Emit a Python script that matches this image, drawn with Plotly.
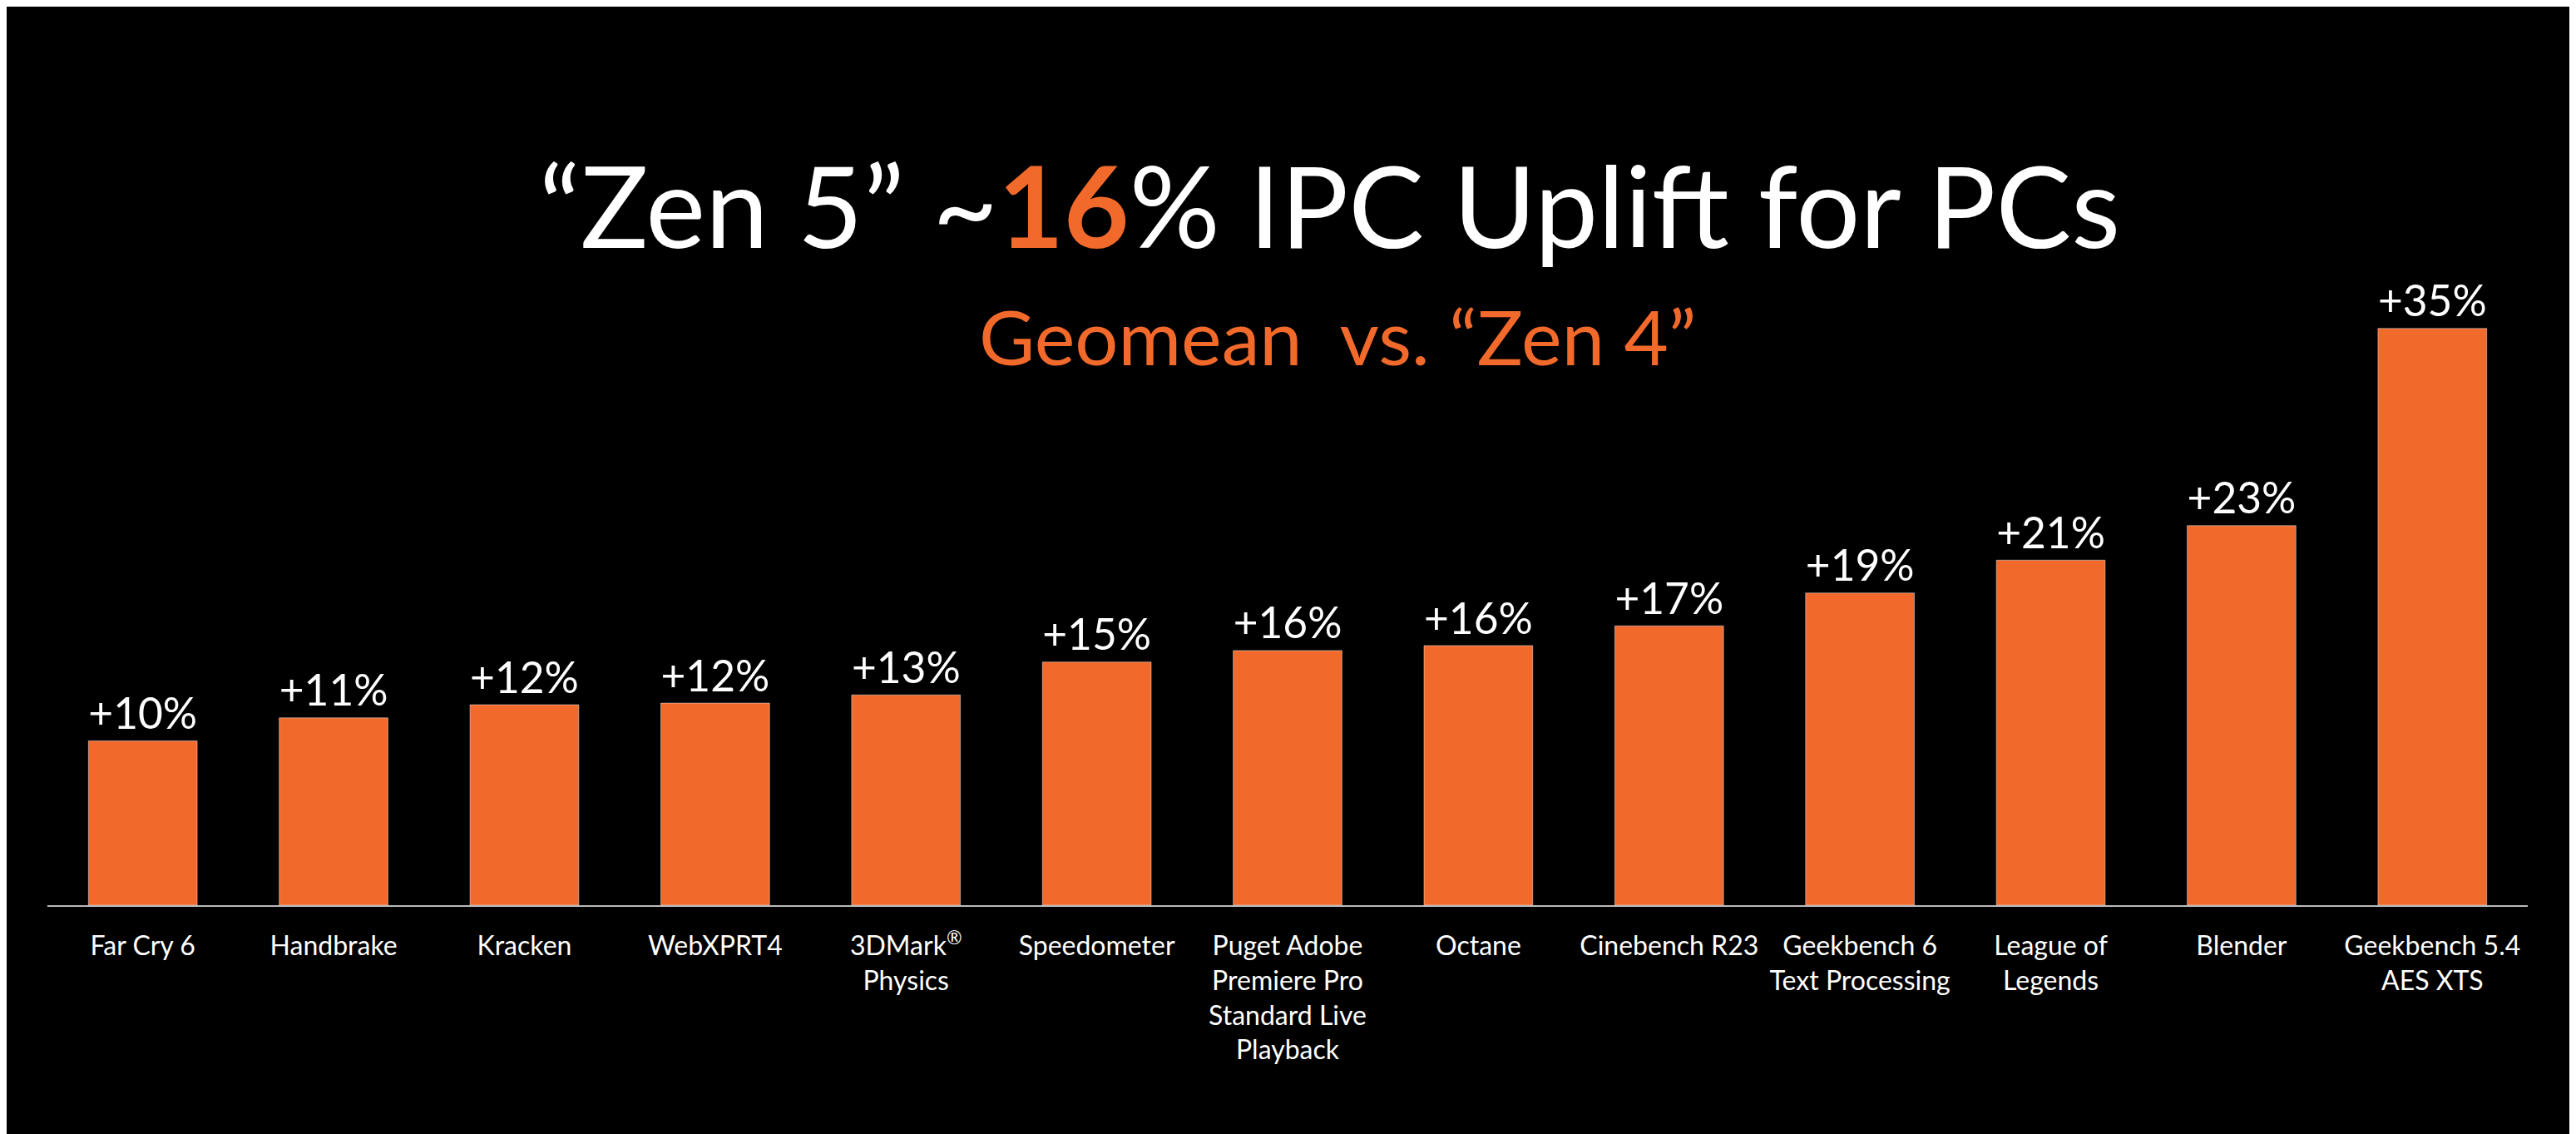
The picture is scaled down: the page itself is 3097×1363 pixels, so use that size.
import plotly.graph_objects as go

categories = ["Far Cry 6", "Handbrake", "Kracken", "WebXPRT4", "3DMark<sup>®</sup><br>Physics",
              "Speedometer", "Puget Adobe<br>Premiere Pro<br>Standard Live<br>Playback", "Octane",
              "Cinebench R23", "Geekbench 6<br>Text Processing", "League of<br>Legends", "Blender",
              "Geekbench 5.4<br>AES XTS"]
values = [10.0, 11.4, 12.2, 12.3, 12.8, 14.8, 15.5, 15.8, 17.0, 19.0, 21.0, 23.1, 35.1]
labels = ["+10%", "+11%", "+12%", "+12%", "+13%", "+15%", "+16%", "+16%", "+17%", "+19%", "+21%", "+23%", "+35%"]

orange = "#F26A2B"
fig = go.Figure(go.Bar(x=list(range(len(categories))), y=values, text=labels, textposition="outside",
                       marker_color=orange, cliponaxis=False,
                       textfont=dict(color="white", size=54, family="Lato")))
fig.update_layout(
    width=3097, height=1363, paper_bgcolor="black", plot_bgcolor="black",
    margin=dict(l=49, r=66, t=290, b=283), bargap=0.43, showlegend=False,
    xaxis=dict(tickmode="array", tickvals=list(range(len(categories))), ticktext=categories,
               range=[-0.5, 12.5], showline=True, linecolor="#bbbbbb", linewidth=2,
               showgrid=False, zeroline=False, ticks="", ticklabelstandoff=20, tickangle=0,
               tickfont=dict(color="white", size=32, family="Lato")),
    yaxis=dict(range=[0, 40], visible=False, showgrid=False),
)
pw, ph = 3097-49-66, 1363-290-283
fig.add_annotation(text="“Zen 5” ~<b><span style='color:%s'>16</span></b>%% IPC Uplift for PCs" % orange,
                   x=(1590-49)/pw, y=(1080-237)/ph, xref="paper", yref="paper",
                   xanchor="center", yanchor="middle", showarrow=False,
                   font=dict(color="white", size=136, family="Lato"))
fig.add_annotation(text="Geomean  vs. “Zen 4”", x=(1600-49)/pw, y=(1080-395)/ph,
                   xref="paper", yref="paper", xanchor="center", yanchor="middle", showarrow=False,
                   font=dict(color=orange, size=92, family="Lato"))
fig.write_html("out.html")
